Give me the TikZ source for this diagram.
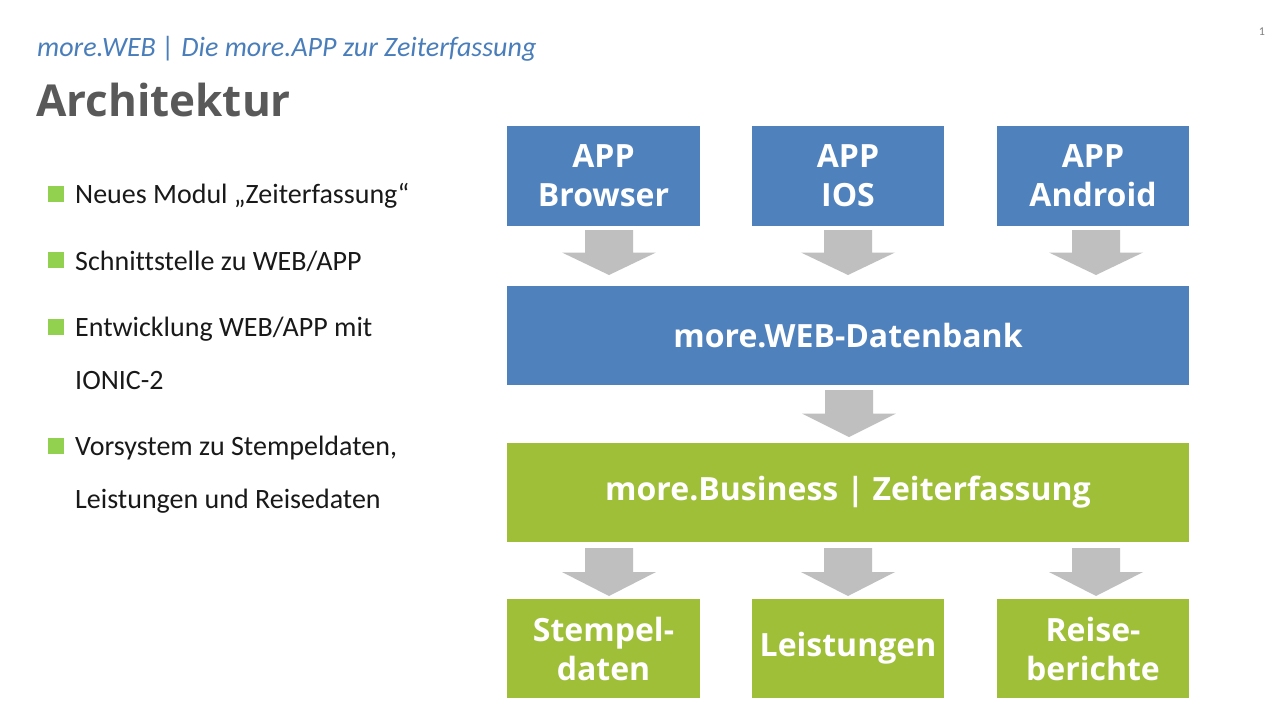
\documentclass[tikz,border=0pt]{standalone}
\usepackage{fontspec}
\setmainfont{Carlito}[Ligatures=NoCommon]
\newfontfamily\opensans{Open Sans}
\usetikzlibrary{calc}
\definecolor{boxblue}{HTML}{4F81BD}
\definecolor{boxgreen}{HTML}{A0BF38}
\definecolor{arrowgray}{HTML}{BFBFBF}
\definecolor{titlegray}{HTML}{595959}
\definecolor{subblue}{HTML}{4A7EBB}
\definecolor{bulletgreen}{HTML}{92D050}
\tikzset{
  bluebox/.style={fill=boxblue, text=white, inner sep=0pt, align=center,
    font=\opensans\bfseries\fontsize{32}{39}\selectfont},
  greenbox/.style={fill=boxgreen, text=white, inner sep=0pt, align=center,
    font=\opensans\bfseries\fontsize{32}{39}\selectfont},
  bullettext/.style={anchor=base west, inner sep=0pt, text=black!90,
    font=\fontsize{28}{32}\selectfont},
  bulletsq/.style={fill=bulletgreen, minimum size=16pt, inner sep=0pt}
}
% block arrow: #1 centre x, #2 top y, #3 tip y
\newcommand{\blockarr}[3]{%
  \fill[arrowgray] (#1-24,#2) -- (#1+24,#2) -- (#1+24,{#2+0.5*(#3-#2)}) -- (#1+47,{#2+0.5*(#3-#2)})
    -- (#1,#3) -- (#1-47,{#2+0.5*(#3-#2)}) -- (#1-24,{#2+0.5*(#3-#2)}) -- cycle;}
\begin{document}
\begin{tikzpicture}[x=1pt,y=-1pt]
\useasboundingbox (0,0) rectangle (1279,720);
\fill[white] (0,0) rectangle (1279,720);

% header
\node[anchor=base west, inner sep=0pt, text=subblue, font=\itshape\fontsize{28}{30}\selectfont] (sub) at (37,56) {more.WEB | Die more.APP zur Zeiterfassung};
\node[anchor=base west, inner sep=0pt, text=titlegray, font=\opensans\bfseries\fontsize{44}{50}\selectfont] (title) at (36,116) {Architektur};
\node[anchor=base, inner sep=0pt, text=gray, font=\fontsize{12}{12}\selectfont] (pnum) at (1262,35) {1};

% bullets
\node[bulletsq] (b1) at (55.5,194) {};
\node[bullettext] (t1) at (75,203) {Neues Modul „Zeiterfassung“};
\node[bulletsq] (b2) at (55.5,260) {};
\node[bullettext] (t2) at (75,270) {Schnittstelle zu WEB/APP};
\node[bulletsq] (b3) at (55.5,327) {};
\node[bullettext] (t3) at (75,336) {Entwicklung WEB/APP mit};
\node[bullettext] (t3b) at (75,389) {IONIC-2};
\node[bulletsq] (b4) at (55.5,446) {};
\node[bullettext] (t4) at (75,455) {Vorsystem zu Stempeldaten,};
\node[bullettext] (t4b) at (75,508) {Leistungen und Reisedaten};

% top row
\node[bluebox, minimum width=193pt, minimum height=100pt] (browser) at (603.5,176) {APP\\Browser};
\node[bluebox, minimum width=192pt, minimum height=100pt] (ios) at (848,176) {APP\\IOS};
\node[bluebox, minimum width=192pt, minimum height=100pt] (android) at (1093,176) {APP\\Android};

% database
\node[bluebox, minimum width=682pt, minimum height=99pt] (db) at (848,335.5) {more.WEB-Datenbank};

% business
\node[greenbox, minimum width=682pt, minimum height=99pt] (biz) at (848,492.5) {more.Business | Zeiterfassung};

% bottom row
\node[greenbox, minimum width=193pt, minimum height=99pt] (stempel) at (603.5,648.5) {Stempel-\\daten};
\node[greenbox, minimum width=192pt, minimum height=99pt] (leist) at (848,648.5) {Leistungen};
\node[greenbox, minimum width=192pt, minimum height=99pt] (reise) at (1093,648.5) {Reise-\\berichte};

% arrows
\blockarr{609}{230}{275}
\blockarr{848}{230}{275}
\blockarr{1096}{230}{275}
\blockarr{849}{390}{437}
\blockarr{609}{548}{596}
\blockarr{848}{548}{596}
\blockarr{1096}{548}{596}
\end{tikzpicture}
\end{document}
